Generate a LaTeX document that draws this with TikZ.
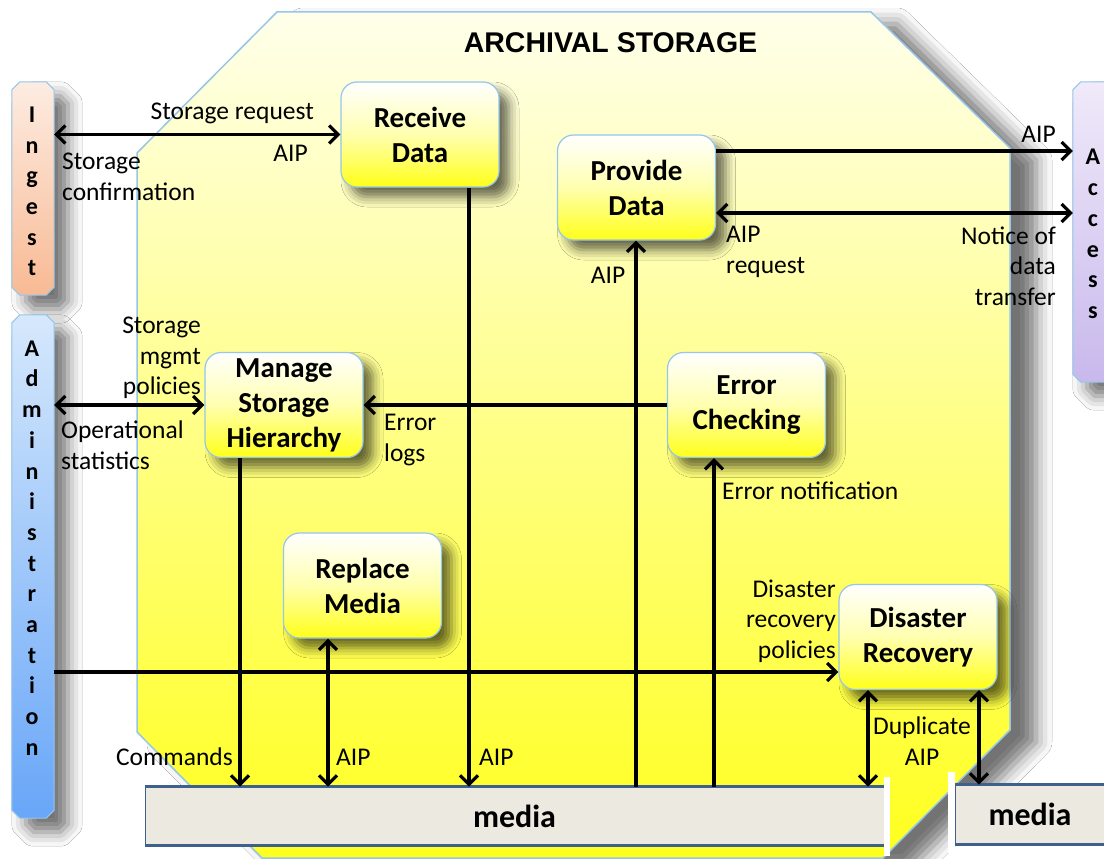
\documentclass[tikz,border=0pt]{standalone}
\usepackage{fontspec}
\setmainfont{Carlito}
\newfontfamily\titlefont{Liberation Sans}
\usepackage{tikz}
\usetikzlibrary{arrows.meta,shadows.blur}

\definecolor{edgeblue}{RGB}{150,198,234}
\definecolor{mediablue}{RGB}{62,96,140}
\definecolor{mediafill}{RGB}{236,233,224}
\definecolor{octtop}{RGB}{255,255,235}
\definecolor{octmid}{RGB}{255,255,170}
\definecolor{octbot}{RGB}{255,255,30}
\definecolor{boxmid}{RGB}{255,255,175}
\definecolor{boxbot}{RGB}{255,255,25}
\definecolor{ingtop}{RGB}{253,236,226}
\definecolor{ingbot}{RGB}{248,186,148}
\definecolor{admtop}{RGB}{214,232,252}
\definecolor{admbot}{RGB}{104,166,248}
\definecolor{acctop}{RGB}{240,234,250}
\definecolor{accbot}{RGB}{200,184,236}

\begin{document}
\begin{tikzpicture}[x=1pt,y=-1pt,>={Straight Barb[length=9pt,width=18pt]}]
	\tikzset{
		proc/.style={draw=edgeblue,line width=1.2pt,rounded corners=16pt,minimum width=158pt,minimum height=105pt,
			inner sep=0pt,top color=white,bottom color=boxbot,middle color=boxmid,align=center,
			font=\bfseries\fontsize{29}{35}\selectfont,
			blur shadow={shadow xshift=10pt,shadow yshift=-10pt,shadow blur radius=10pt,shadow opacity=60}},
		side/.style={rectangle,minimum width=42pt,inner sep=0pt},
		sidefill/.style={draw=edgeblue,line width=1pt,
			blur shadow={shadow xshift=14pt,shadow yshift=-14pt,shadow blur radius=14pt,shadow opacity=55}},
		sidelbl/.style={align=center,inner sep=0pt,font=\bfseries\fontsize{24}{30.7}\selectfont},
		mediabar/.style={fill=mediafill,draw=mediablue,line width=0.8pt,inner sep=0pt,
			font=\bfseries\fontsize{32}{36}\selectfont},
		mediarim/.style={draw=mediablue,line width=3pt},
		flow/.style={line width=3.2pt,black},
		lbl/.style={inner sep=0pt,font=\fontsize{25.5}{30.5}\selectfont}
	}
	\useasboundingbox[fill=white] (0,0) rectangle (1104,859);

	%% Archival storage area
	\path[draw=edgeblue,line width=1.5pt,top color=octtop,middle color=octmid,bottom color=octbot,
		blur shadow={shadow xshift=26pt,shadow yshift=-12pt,shadow blur radius=16pt,shadow opacity=55}]
		(277,12) -- (871,12) -- (1010,148) -- (1010,730) -- (883,858) -- (262,858) -- (137,732) -- (137,153) -- cycle;
	\node[font=\titlefont\bfseries\fontsize{28.5}{34}\selectfont] (ttl) at (610.5,43) {ARCHIVAL STORAGE};

	%% Outside entities
	\node[side,minimum height=213pt] (ing) at (33,188.5) {};
	\node[side,minimum height=503pt] (adm) at (33,566.5) {};
	\node[side,minimum height=300pt] (acc) at (1094,232) {};
	\foreach \n/\ct/\cb in {ing/ingtop/ingbot,adm/admtop/admbot,acc/acctop/accbot}
		\path[sidefill,top color=\ct,bottom color=\cb]
			([yshift=-8pt]\n.north west) -- ([xshift=8pt]\n.north west) -- ([xshift=-8pt]\n.north east)
			-- ([yshift=-8pt]\n.north east) -- ([yshift=8pt]\n.south east) -- ([xshift=-8pt]\n.south east)
			-- ([xshift=8pt]\n.south west) -- ([yshift=8pt]\n.south west) -- cycle;
	\node[sidelbl] (ingtxt) at (32,191.5) {I\\n\\g\\e\\s\\t};
	\node[sidelbl] (admtxt) at (32,548) {A\\d\\m\\i\\n\\i\\s\\t\\r\\a\\t\\i\\o\\n};
	\node[sidelbl] (acctxt) at (1093,234) {A\\c\\c\\e\\s\\s};

	%% Functions
	\node[proc] (rcv) at (420,134.5) {Receive\\Data};
	\node[proc] (prv) at (636.5,187.5) {Provide\\Data};
	\node[proc] (msh) at (284,405) {Manage\\Storage\\Hierarchy};
	\node[proc] (err) at (746.5,405) {Error\\Checking};
	\node[proc] (rpl) at (362.5,585.5) {Replace\\Media};
	\node[proc] (dis) at (918,637) {Disaster\\Recovery};

	%% Media
	\node[mediabar,minimum width=739pt,minimum height=58pt] (med) at (514.5,816) {media};
	\node[mediabar,minimum width=150pt,minimum height=59pt] (med2) at (1030,814.5) {media};
	\path[mediarim] (med.north west) -- (med.north east) (med.south west) -- (med.south east)
		(med2.north west) -- (med2.north east) (med2.south west) -- (med2.south east);
	\fill[white] (884,777) rectangle (890,856);
	\fill[white] (948,772) rectangle (955,853);

	%% Tracks
	\coordinate (kcmd) at (240,0);
	\coordinate (krpl) at (328,0);
	\coordinate (krcv) at (469,0);
	\coordinate (kprv) at (636,0);
	\coordinate (kerr) at (714,0);
	\coordinate (kdup) at (868,0);
	\coordinate (kdr) at (979,0);
	\coordinate (kout) at (0,151);
	\coordinate (kreq) at (0,213);
	\coordinate (kpol) at (0,672);

	\path[flow]
		(rcv.west -| ing.east) edge[<->] (rcv.west)
		(prv.east |- kout) edge[->] (acc.west |- kout)
		(prv.east |- kreq) edge[<->] (acc.west |- kreq)
		(msh.west -| adm.east) edge[<->] (msh.west)
		(err.west) edge[->] (msh.east)
		(adm.east |- kpol) edge[->] (dis.west |- kpol)
		(msh.south -| kcmd) edge[->] (med.north -| kcmd)
		(rpl.south -| krpl) edge[<->] (med.north -| krpl)
		(rcv.south -| krcv) edge[->] (med.north -| krcv)
		(med.north -| kprv) edge[->] (prv.south -| kprv)
		(med.north -| kerr) edge[->] (err.south -| kerr)
		(dis.south -| kdup) edge[<->] (med.north -| kdup)
		(dis.south -| kdr) edge[<->] (med2.north -| kdr);

	%% Flow labels
	\node[lbl,anchor=east] (lsreq) at (314,113) {Storage request};
	\node[lbl,anchor=east] (laip1) at (308,153) {AIP};
	\node[lbl,anchor=west,align=left] (lconf) at (62,177) {Storage\\confirmation};
	\node[lbl,anchor=east] (laip2) at (1056,134) {AIP};
	\node[lbl,anchor=west,align=left] (lreq) at (726,252) {AIP\\request};
	\node[lbl,anchor=east,align=right] (lnot) at (1056,266) {Notice of\\data\\transfer};
	\node[lbl] (laip3) at (608,275) {AIP};
	\node[lbl,anchor=east,align=right] (lpol) at (201,358) {Storage\\mgmt\\policies};
	\node[lbl,anchor=west,align=left] (lstat) at (61,445) {Operational\\statistics};
	\node[lbl,anchor=west,align=left] (llog) at (384,440) {Error\\logs};
	\node[lbl,anchor=west] (lnotif) at (722,491) {Error notification};
	\node[lbl,anchor=east,align=right] (ldrp) at (836,621) {Disaster\\recovery\\policies};
	\node[lbl,align=center] (ldup) at (922,741) {Duplicate\\AIP};
	\node[lbl,anchor=east] (lcmd) at (233,757) {Commands};
	\node[lbl,anchor=west] (laip4) at (336,757) {AIP};
	\node[lbl,anchor=west] (laip5) at (479,757) {AIP};
\end{tikzpicture}
\end{document}
